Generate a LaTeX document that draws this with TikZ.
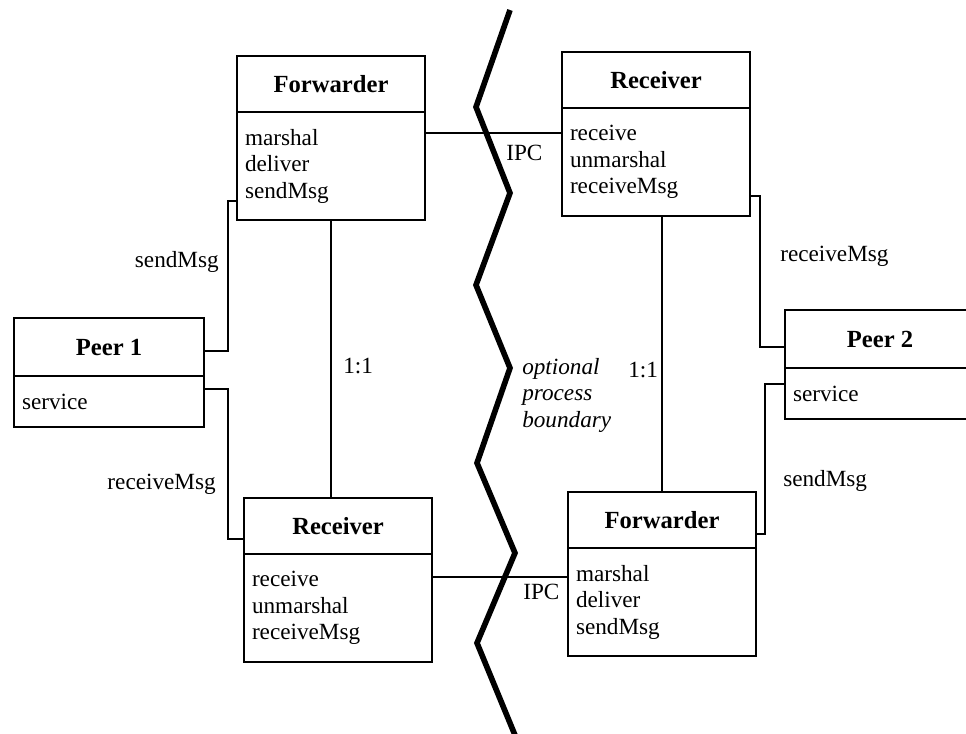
\documentclass[tikz,border=0pt]{standalone}
\usepackage{fontspec}
\setmainfont{Liberation Serif}
\usetikzlibrary{calc,positioning}

\begin{document}
\begin{tikzpicture}[
  x=0.025cm,y=-0.025cm,
  head/.style={draw,line width=1.2pt,outer sep=0pt,minimum width=4.7cm,minimum height=1.4cm,anchor=north west,font=\fontsize{17.5}{20}\selectfont\bfseries},
  ops/.style={draw,line width=1.2pt,outer sep=0pt,minimum height=2.7cm,text width=4.3cm,inner xsep=0.2cm,align=left,font=\fontsize{16.5}{18.85}\selectfont},
  peerhead/.style={head,minimum width=4.75cm,minimum height=1.45cm},
  peerops/.style={ops,minimum height=1.275cm,text width=4.35cm},
  link/.style={line width=0.9pt},
  lbl/.style={inner sep=0pt,font=\fontsize{16.5}{18.85}\selectfont},
  boundary/.style={line width=4pt}
]
  \useasboundingbox (0,0) rectangle (966,733);
  \clip (0,0) rectangle (966,733);
  \node[head] (fwd1) at (237,56) {Forwarder};
  \node[ops,below=0pt of fwd1] (fwd1ops) {marshal\\deliver\\sendMsg};
  \node[head] (rcv2) at (562,52) {Receiver};
  \node[ops,below=0pt of rcv2] (rcv2ops) {receive\\unmarshal\\receiveMsg};
  \node[peerhead] (peer1) at (14,318) {Peer 1};
  \node[peerops,below=0pt of peer1] (peer1ops) {service};
  \node[peerhead] (peer2) at (785,310) {Peer 2};
  \node[peerops,below=0pt of peer2] (peer2ops) {service};
  \node[head] (rcv1) at (244,498) {Receiver};
  \node[ops,below=0pt of rcv1] (rcv1ops) {receive\\unmarshal\\receiveMsg};
  \node[head] (fwd2) at (568,492) {Forwarder};
  \node[ops,below=0pt of fwd2] (fwd2ops) {marshal\\deliver\\sendMsg};
  \draw[link] ($(peer1.east)+(0,4)$) -- ++(24,0) |- ($(fwd1ops.south west)+(0,-19)$);
  \draw[link] ($(peer1ops.north east)+(0,13)$) -- ++(24,0) |- ($(rcv1.west)+(0,13)$);
  \draw[link] (fwd1ops.south) -- (fwd1ops.south |- rcv1.north);
  \draw[link] ($(fwd1ops.north east)+(0,21)$) -- ($(rcv2ops.north west)+(0,25)$);
  \draw[link] ($(rcv2ops.south east)+(0,-20)$) -- ++(10,0) |- ($(peer2.west)+(0,8)$);
  \draw[link] ($(peer2ops.north west)+(0,16)$) -- ++(-20,0) |- ($(fwd2.east)+(0,14)$);
  \draw[link] (fwd2.north) -- (fwd2.north |- rcv2ops.south);
  \draw[link] ($(rcv1ops.north east)+(0,23)$) -- ($(fwd2ops.north west)+(0,29)$);
  \node[lbl,anchor=east] (send1) at (219,262) {sendMsg};
  \node[lbl,anchor=east] (recv1) at (216,484) {receiveMsg};
  \node[lbl,anchor=west] (recv2) at (780,256) {receiveMsg};
  \node[lbl,anchor=west] (send2) at (783,481) {sendMsg};
  \node[lbl,anchor=west] (ratio1) at (343,366) {1:1};
  \node[lbl,anchor=west] (ratio2) at (628,370) {1:1};
  \node[lbl,anchor=west] (ipc1) at (506,153) {IPC};
  \node[lbl,anchor=west] (ipc2) at (523,592) {IPC};
  \node[lbl,anchor=west,align=left,font=\fontsize{16.5}{18.85}\selectfont\itshape] (bound) at (522,395) {optional\\process\\boundary};
  \draw[boundary] (510,10) -- (476,107) -- (510,193) -- (476,285) -- (510,368) -- (477,463) -- (515,553) -- (477,643) -- (517,740);
\end{tikzpicture}
\end{document}
